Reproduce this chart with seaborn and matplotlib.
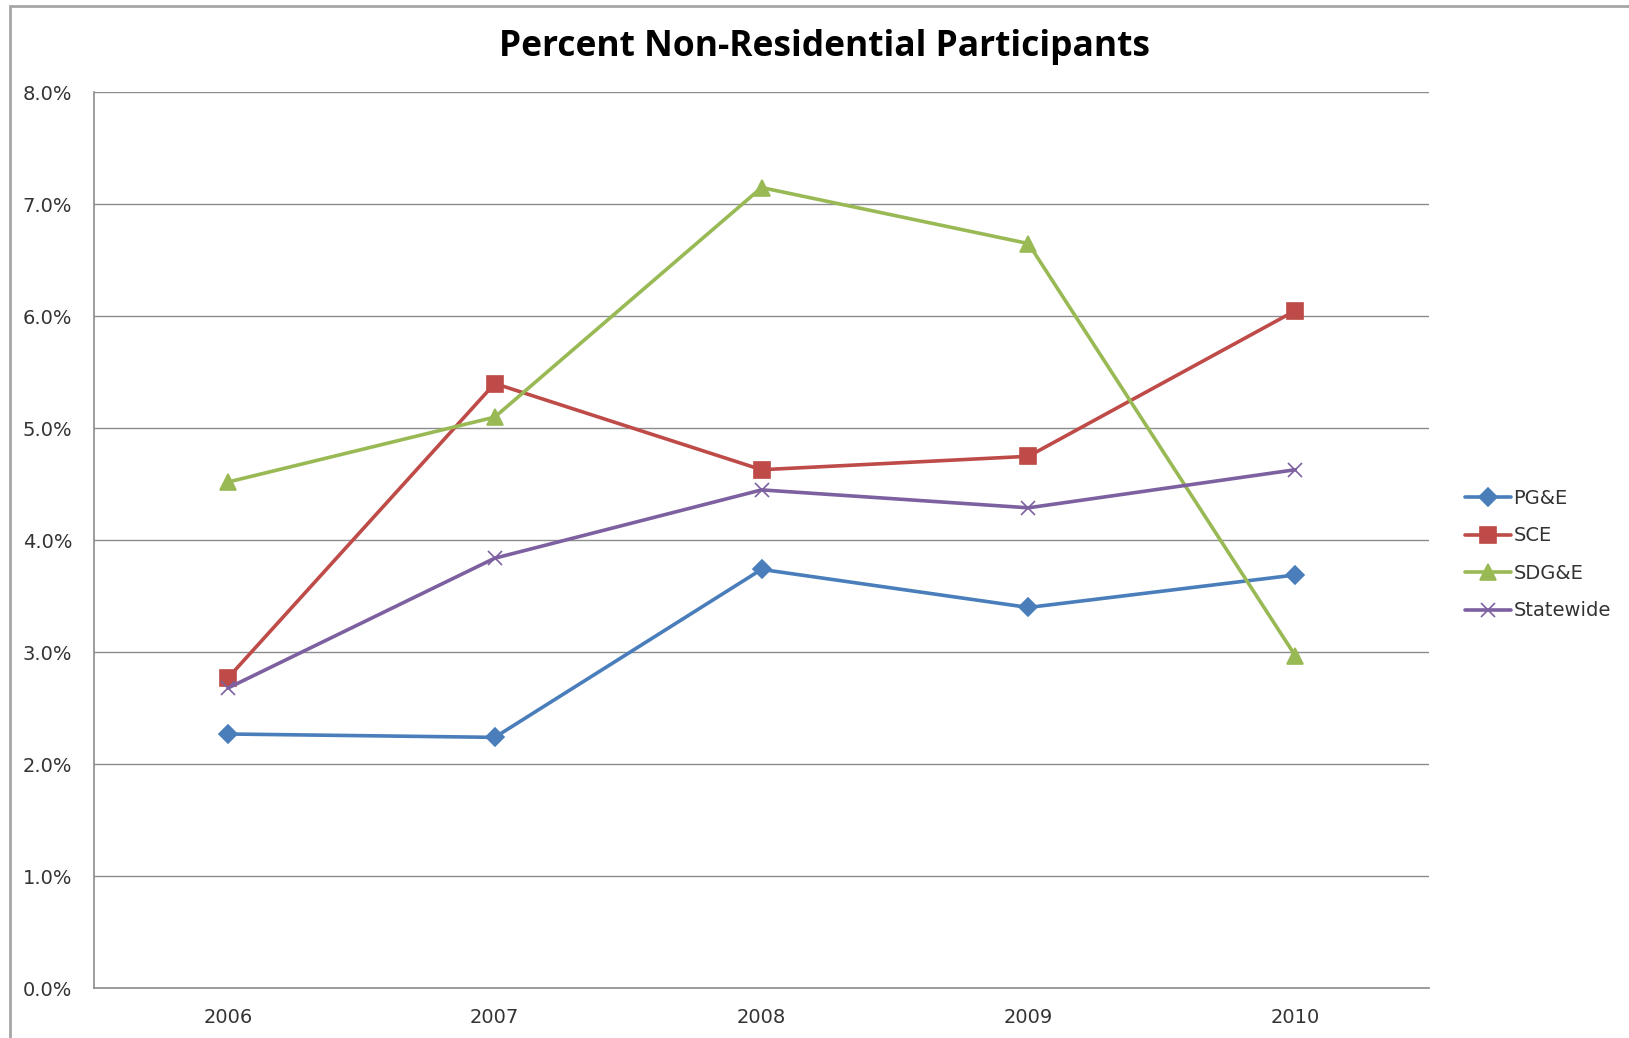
import matplotlib
matplotlib.use("Agg")
import matplotlib.pyplot as plt
import seaborn as sns
import pandas as pd
from matplotlib.patches import Rectangle
from matplotlib.ticker import PercentFormatter

# values (percent)
years = ["2006", "2007", "2008", "2009", "2010"]
pge = [2.27, 2.24, 3.74, 3.40, 3.69]
sce = [2.77, 5.40, 4.63, 4.75, 6.05]
sdge = [4.52, 5.10, 7.15, 6.65, 2.97]
statewide = [2.68, 3.84, 4.45, 4.29, 4.63]

series_names = ["PG&E", "SCE", "SDG&E", "Statewide"]
series_values = [pge, sce, sdge, statewide]
colors = ["#4A7EBB", "#BE4B48", "#98B954", "#7D60A0"]
markers = ["D", "s", "^", "x"]
marker_sizes = [9, 11, 11, 10]

sns.set_style("white")
plt.rcParams["font.family"] = ["DejaVu Sans"]
plt.rcParams["font.sans-serif"] = ["DejaVu Sans"]

fig = plt.figure(figsize=(16.29, 10.38), dpi=100)
ax = fig.add_axes([0.058, 0.048, 0.819, 0.863])

for name, vals, c, m, ms in zip(series_names, series_values, colors, markers, marker_sizes):
    df = pd.DataFrame({"year": years, "value": vals})
    sns.lineplot(data=df, x="year", y="value", color=c, marker=m,
                 markersize=ms, markeredgecolor=c, markeredgewidth=1.2,
                 linewidth=2.6, sort=False, label=name, ax=ax)

ax.set_xlim(-0.5, 4.5)
ax.set_ylim(0, 8)
ax.set_yticks(range(0, 9))
ax.yaxis.set_major_formatter(PercentFormatter(decimals=1))
ax.grid(axis="y", color="#8c8c8c", linewidth=1.0)
ax.set_axisbelow(True)
ax.set_xlabel("")
ax.set_ylabel("")
for side in ["top", "right"]:
    ax.spines[side].set_visible(False)
for side in ["left", "bottom"]:
    ax.spines[side].set_color("#8c8c8c")
    ax.spines[side].set_linewidth(1.2)
ax.tick_params(axis="both", labelsize=14, colors="#8c8c8c", labelcolor="#333333",
               length=5, direction="out")
ax.tick_params(axis="y", pad=11)
ax.tick_params(axis="x", pad=14, length=0)
for lab in ax.get_xticklabels() + ax.get_yticklabels():
    lab.set_family("DejaVu Sans")

fig.text(0.506, 0.955, "Percent Non-Residential Participants",
         ha="center", va="center", fontsize=25.5, fontweight="bold",
         color="black", family=["Open Sans", "DejaVu Sans"])

leg = ax.legend(loc="center left", bbox_to_anchor=(1.014, 0.484), frameon=False,
                prop={"family": "DejaVu Sans", "size": 14},
                handlelength=2.4, handletextpad=0.1, labelspacing=0.95)
for t in leg.get_texts():
    t.set_color("#333333")

# outer chart border (top and left edges visible)
fig.patches.append(Rectangle((10 / 1629, -0.05), 1.2, 1 - 6 / 1038 + 0.05,
                             transform=fig.transFigure, fill=False,
                             edgecolor="#a6a6a6", linewidth=2))

fig.savefig("out.png", dpi=100)
